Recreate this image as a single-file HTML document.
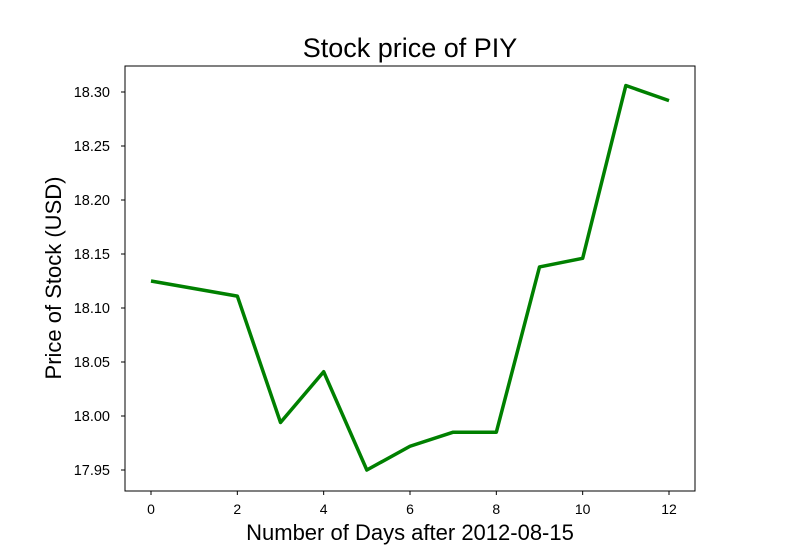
<!DOCTYPE html>
<html><head><meta charset="utf-8"><style>
body{margin:0;background:#fff;}
svg{display:block;font-family:"Liberation Sans","DejaVu Sans",sans-serif;}
</style></head><body>
<svg id="chart" width="800" height="550">
<text x="410" y="57" font-size="27" text-anchor="middle">Stock price of PIY</text>
<rect x="125" y="66" width="570" height="425" fill="none" stroke="#000" stroke-width="1"/>
<g id="xt"></g>
<g id="yt"></g>
<path id="line" fill="none" stroke="#008000" stroke-width="3.5" stroke-linejoin="round"/>
<text x="410" y="540" font-size="22" text-anchor="middle">Number of Days after 2012-08-15</text>
<text transform="translate(61,278) rotate(-90)" font-size="22" text-anchor="middle">Price of Stock (USD)</text>
</svg>
<script>
const days = [0,2,3,4,5,6,7,8,9,10,11,12];
const prices = [18.125,18.111,17.994,18.041,17.950,17.972,17.985,17.985,18.138,18.146,18.306,18.292];
const xTicks = [0,2,4,6,8,10,12];
const yTicks = [17.95,18.00,18.05,18.10,18.15,18.20,18.25,18.30];
const X = d => 151 + d*(669-151)/12;
const Y = v => 470 - (v-17.95)*(470-92)/0.35;
const ns="http://www.w3.org/2000/svg";
const xt=document.getElementById('xt'), yt=document.getElementById('yt');
xTicks.forEach(t=>{
  const l=document.createElementNS(ns,'line');
  l.setAttribute('x1',X(t));l.setAttribute('x2',X(t));l.setAttribute('y1',491);l.setAttribute('y2',495);l.setAttribute('stroke','#000');
  
  
  xt.appendChild(l);
  const s=document.createElementNS(ns,'text');
  s.setAttribute('x',X(t));s.setAttribute('y',514);s.setAttribute('font-size','14');s.setAttribute('text-anchor','middle');
  s.textContent=t;
  
  
  xt.appendChild(s);
});
yTicks.forEach(t=>{
  const l=document.createElementNS(ns,'line');
  l.setAttribute('x1',121);l.setAttribute('x2',125);l.setAttribute('y1',Y(t));l.setAttribute('y2',Y(t));l.setAttribute('stroke','#000');
  
  
  yt.appendChild(l);
  const s=document.createElementNS(ns,'text');
  s.setAttribute('x',110);s.setAttribute('y',Y(t)+5);s.setAttribute('font-size','14.5');s.setAttribute('text-anchor','end');
  s.textContent=t.toFixed(2);
  
  
  yt.appendChild(s);
});
document.getElementById('line').setAttribute('d',days.map((d,i)=>(i?'L':'M')+X(d)+','+Y(prices[i])).join(' '));
</script>
</body></html>
